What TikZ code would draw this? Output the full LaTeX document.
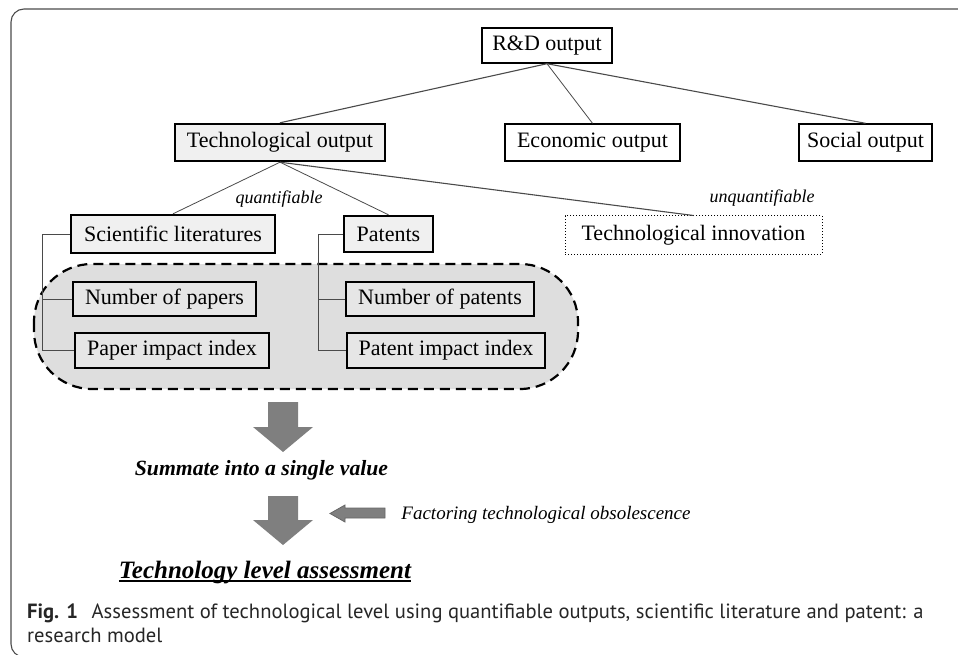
\documentclass[tikz,border=0pt]{standalone}
\usepackage{fontspec}
\setmainfont{Liberation Serif}
\newfontfamily\capfont{PT Sans}
\definecolor{agray}{HTML}{7F7F7F}
\definecolor{lightfill}{HTML}{F0F0F0}
\definecolor{innerfill}{HTML}{E6E6E6}
\definecolor{regionfill}{HTML}{DEDEDE}
\definecolor{linegray}{HTML}{4A4A4A}
\begin{document}
\begin{tikzpicture}[x=1pt,y=-1pt,
  boxtext/.style={inner sep=0pt, font=\fontsize{22}{26}\selectfont},
  wbox/.style={boxtext, draw=black, line width=1.4pt, fill=white, minimum height=35pt},
  sbox/.style={boxtext, draw=black, line width=2.4pt, fill=lightfill, minimum height=37pt},
  dbox/.style={boxtext, draw=black, line width=1pt, dotted, fill=white, minimum height=38pt},
  ibox/.style={boxtext, draw=black, line width=1.2pt, fill=innerfill, minimum height=34pt},
  conn/.style={draw=linegray, line width=1.1pt},
  thinconn/.style={draw=linegray, line width=0.8pt},
  itlabel/.style={inner sep=0pt, font=\itshape\fontsize{18}{20}\selectfont},
  region/.style={draw=black, line width=2.2pt, dash pattern=on 10pt off 6pt, fill=regionfill, rounded corners=58pt},
  blockarrow/.style={fill=agray},
  captext/.style={anchor=base west, inner sep=0pt, text=black!85, font=\capfont\fontsize{20.6}{24}\selectfont},
]
\useasboundingbox (0,0) rectangle (958,655);
\begin{scope}
\clip (0,0) rectangle (958,655);
\draw[draw=black!70, line width=1.1pt, rounded corners=13pt] (11,9) rectangle (1000,657);
\end{scope}

% top level
\node[wbox, minimum width=130pt] (rd) at (547,45.5) {R\&D output};
\node[sbox, minimum width=210pt] (tech) at (280,142.5) {Technological output};
\node[wbox, minimum width=175pt, minimum height=37pt] (econ) at (592.5,142.5) {Economic output};
\node[wbox, minimum width=133pt, minimum height=37pt] (soc) at (865.5,142.5) {Social output};

\draw[conn] (rd.south) -- (tech.north);
\draw[thinconn] (rd.south) -- (econ.north);
\draw[conn] (rd.south) -- (soc.north);

% second level
\node[sbox, minimum width=204pt, minimum height=38pt] (sci) at (173,234) {Scientific literatures};
\node[sbox, minimum width=89pt, minimum height=36pt] (pat) at (388.5,234) {Patents};
\node[dbox, minimum width=257pt] (inno) at (693.5,235) {Technological innovation};

\draw[thinconn] (tech.south) -- (sci.north);
\draw[thinconn] (tech.south) -- (pat.north);
\draw[conn] (tech.south) -- (inno.north);

\node[itlabel] (quant) at (279,199) {quantifiable};
\node[itlabel] (unquant) at (762,198) {unquantifiable};

% dashed region
\draw[region] (34,264) rectangle (578,389);

\node[ibox, minimum width=183pt] (np) at (164.5,299) {Number of papers};
\node[ibox, minimum width=194pt, minimum height=35pt] (pii) at (172,350.5) {Paper impact index};
\node[ibox, minimum width=188pt] (npt) at (440,299) {Number of patents};
\node[ibox, minimum width=198pt, minimum height=35pt] (ptii) at (446,350.5) {Patent impact index};

\coordinate (lb) at (42,0);
\coordinate (pb) at (318,0);
\draw[thinconn] (sci.west) -- (sci.west -| lb) -- (pii.west -| lb) -- (pii.west);
\draw[thinconn] (np.west) -- (np.west -| lb);
\draw[thinconn] (pat.west) -- (pat.west -| pb) -- (ptii.west -| pb) -- (ptii.west);
\draw[thinconn] (npt.west) -- (npt.west -| pb);

% arrows
\fill[blockarrow] (268,402) -- (298,402) -- (298,427) -- (313,427) -- (283,452) -- (253,427) -- (268,427) -- cycle;
\node[anchor=base, inner sep=0pt, font=\bfseries\itshape\fontsize{21.7}{24}\selectfont] (sum) at (261.5,475) {Summate into a single value};
\fill[blockarrow] (268,496) -- (298,496) -- (298,520) -- (313,520) -- (283,545) -- (253,520) -- (268,520) -- cycle;
\filldraw[fill=agray, draw=black!60, line width=0.8pt] (385,508) -- (345,508) -- (345,505) -- (330,513.5) -- (345,522) -- (345,518) -- (385,518) -- cycle;
\node[anchor=base, inner sep=0pt, font=\itshape\fontsize{19}{21}\selectfont] (fac) at (546,519) {Factoring technological obsolescence};

\node[anchor=base, inner sep=0pt, font=\bfseries\itshape\fontsize{25}{28}\selectfont] (tla) at (265,578) {Technology level assessment};
\draw[line width=1.2pt] ([yshift=-3pt]tla.base west) -- ([yshift=-3pt]tla.base east);

% caption
\node[captext] (cap1) at (27,618) {\textbf{Fig. 1}\hspace{0.4em} Assessment of technological level using quantifiable outputs, scientific literature and patent: a};
\node[captext] (cap2) at (27,642) {research model};
\end{tikzpicture}
\end{document}
